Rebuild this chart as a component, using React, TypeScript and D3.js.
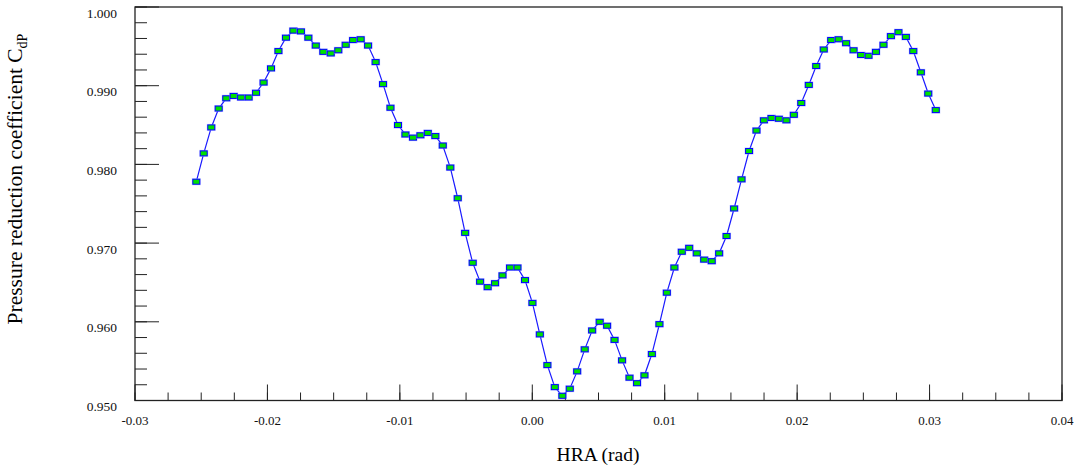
import React from 'react';
import * as d3 from 'd3';

// HRA (rad) sample positions
const hra = [
  -0.02537, -0.02481, -0.02424, -0.02368, -0.02311, -0.02255, -0.02199, -0.02142, -0.02086, -0.02029,
  -0.01973, -0.01917, -0.0186, -0.01804, -0.01747, -0.01691, -0.01635, -0.01578, -0.01522, -0.01465,
  -0.01409, -0.01353, -0.01296, -0.0124, -0.01183, -0.01127, -0.01071, -0.01014, -0.00958, -0.00901,
  -0.00845, -0.00789, -0.00732, -0.00676, -0.00619, -0.00563, -0.00507, -0.0045, -0.00394, -0.00337,
  -0.00281, -0.00225, -0.00168, -0.00112, -0.00055, 0.00001, 0.00057, 0.00114, 0.0017, 0.00227,
  0.00283, 0.00339, 0.00396, 0.00452, 0.00509, 0.00565, 0.00621, 0.00678, 0.00734, 0.00791,
  0.00847, 0.00903, 0.0096, 0.01016, 0.01073, 0.01129, 0.01185, 0.01242, 0.01298, 0.01355,
  0.01411, 0.01467, 0.01524, 0.0158, 0.01637, 0.01693, 0.01749, 0.01806, 0.01862, 0.01919,
  0.01975, 0.02031, 0.02088, 0.02144, 0.02201, 0.02257, 0.02313, 0.0237, 0.02426, 0.02483,
  0.02539, 0.02595, 0.02652, 0.02708, 0.02765, 0.02821, 0.02877, 0.02934, 0.0299, 0.03047,
];

// pressure reduction coefficient C_dP
const cdp = [
  0.9778, 0.9814, 0.9847, 0.9871, 0.9884, 0.9887, 0.9885, 0.9885, 0.9891, 0.9904,
  0.9922, 0.9944, 0.9961, 0.997, 0.9969, 0.9961, 0.9951, 0.9943, 0.9941, 0.9945,
  0.9952, 0.9958, 0.9959, 0.9951, 0.993, 0.9902, 0.9872, 0.985, 0.9838, 0.9834,
  0.9837, 0.984, 0.9836, 0.9824, 0.9796, 0.9757, 0.9713, 0.9675, 0.9651, 0.9644,
  0.9649, 0.9659, 0.9669, 0.9669, 0.9653, 0.9624, 0.9584, 0.9545, 0.9517, 0.9506,
  0.9515, 0.9537, 0.9565, 0.9589, 0.96, 0.9595, 0.9577, 0.9551, 0.9529, 0.9522,
  0.9532, 0.9559, 0.9597, 0.9637, 0.9669, 0.9689, 0.9694, 0.9687, 0.9679, 0.9677,
  0.9687, 0.9709, 0.9744, 0.9781, 0.9817, 0.9843, 0.9856, 0.9859, 0.9858, 0.9856,
  0.9863, 0.9878, 0.9901, 0.9925, 0.9946, 0.9958, 0.9959, 0.9954, 0.9945, 0.9939,
  0.9938, 0.9943, 0.9952, 0.9963, 0.9968, 0.9962, 0.9944, 0.9917, 0.989, 0.9869,
];

const xTicks = [-0.03, -0.02, -0.01, 0.0, 0.01, 0.02, 0.03, 0.04];
const xTickLabels = ['-0.03', '-0.02', '-0.01', '0.00', '0.01', '0.02', '0.03', '0.04'];
const xMinorTicks = d3.range(-0.03, 0.04 + 1e-9, 0.0025);
const yTicks = [0.95, 0.96, 0.97, 0.98, 0.99, 1.0];
const yTickLabels = ['0.950', '0.960', '0.970', '0.980', '0.990', '1.000'];
const yMinorTicks = d3.range(0.95, 1.0 + 1e-9, 0.002);

const W = 1076;
const H = 468;
const left = 135;
const right = 1062;
const top = 7;
const bottom = 400.5;
const font = '"Liberation Serif", "DejaVu Serif", serif';

export default function App() {
  const x = d3.scaleLinear().domain([-0.03, 0.04]).range([left, right]);
  const y = d3.scaleLinear().domain([0.95, 1.0]).range([bottom, top]);

  const line = d3.line<number>()
    .x((_, i) => x(hra[i]))
    .y((d) => y(d));

  return (
    <div style={{ position: 'fixed', left: 0, top: 0, width: W, height: H, background: '#fff' }}>
      <svg width={W} height={H} style={{ display: 'block' }} fontFamily={font}>
        <rect x={0} y={0} width={W} height={H} fill="#fff" />

        {/* frame */}
        <rect x={left} y={top} width={right - left} height={bottom - top}
          fill="none" stroke="#222" strokeWidth={1.3} />

        {/* y ticks */}
        {yMinorTicks.map((t, i) => (
          <line key={'ym' + i} x1={left} x2={left + 12} y1={y(t)} y2={y(t)} stroke="#222" strokeWidth={1} />
        ))}
        {yTicks.map((t, i) => (
          <g key={'y' + t}>
            <line x1={left} x2={left + 24} y1={y(t)} y2={y(t)} stroke="#222" strokeWidth={1} />
            <text x={117} y={y(t) + 10.5} textAnchor="end" fontSize={13.5} fill="#111">
              {yTickLabels[i]}
            </text>
          </g>
        ))}

        {/* x ticks */}
        {xMinorTicks.map((t, i) => (
          <line key={'xm' + i} x1={x(t)} x2={x(t)} y1={bottom} y2={bottom - 8} stroke="#222" strokeWidth={1} />
        ))}
        {xTicks.map((t, i) => (
          <g key={'x' + t}>
            <line x1={x(t)} x2={x(t)} y1={bottom} y2={bottom - 16} stroke="#222" strokeWidth={1} />
            <text x={x(t)} y={425} textAnchor="middle" fontSize={13} fill="#111">
              {xTickLabels[i]}
            </text>
          </g>
        ))}

        {/* series */}
        <path d={line(cdp) ?? ''} fill="none" stroke="#1a1aff" strokeWidth={1.2} />
        {cdp.map((v, i) => (
          <g key={'p' + i}>
            <rect x={x(hra[i]) - 4.5} y={y(v) - 3.5} width={9} height={7} fill="#9aa6ff" opacity={0.6} />
            <rect x={x(hra[i]) - 3.5} y={y(v) - 2.5} width={7} height={5}
              fill="#00e000" stroke="#0000ff" strokeWidth={1} />
          </g>
        ))}

        {/* axis titles */}
        <text x={598} y={461} textAnchor="middle" fontSize={19.5} fill="#000">HRA (rad)</text>
        <text transform="translate(22,179) rotate(-90)" textAnchor="middle" fontSize={21.5} fill="#000">
          Pressure reduction coefficient C
          <tspan fontSize={14} dy={5}>dP</tspan>
        </text>
      </svg>
    </div>
  );
}
